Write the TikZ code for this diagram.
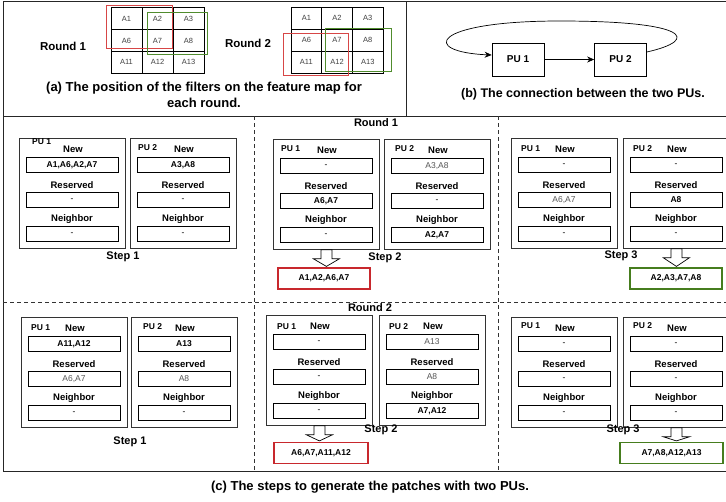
\documentclass[tikz,border=0pt]{standalone}
\usepackage{fontspec}
\setmainfont{Liberation Sans}
\usetikzlibrary{arrows.meta,calc}
\definecolor{redb}{RGB}{200,40,45}
\definecolor{greenb}{RGB}{70,125,30}
\definecolor{reda}{RGB}{215,70,70}
\definecolor{greena}{RGB}{80,140,45}
\definecolor{vgray}{RGB}{85,85,85}
\newcommand\ValB[1]{\textbf{#1}}
\newcommand\ValG[1]{\textcolor{vgray}{#1}}
% #1 name, #2 x, #3 y, #4 PU label, #5 new, #6 reserved, #7 neighbor, #8 PU label offset
\newcommand\PUpanel[8]{%
  \node[pubox] (#1) at (#2,#3) {};
  \node[pulbl] (#1-pu) at ($(#1.north west)+#8$) {#4};
  \node[lbl] (#1-nl) at ($(#1.north west)+(54,11)$) {New};
  \node[field] (#1-nf) at ($(#1.north west)+(53,27)$) {#5};
  \node[lbl] (#1-rl) at ($(#1.north west)+(53,47)$) {Reserved};
  \node[field] (#1-rf) at ($(#1.north west)+(53,62)$) {#6};
  \node[lbl] (#1-gl) at ($(#1.north west)+(53,81)$) {Neighbor};
  \node[field] (#1-gf) at ($(#1.north west)+(53,96)$) {#7};
}
\newcommand\HollowArrow[2]{%
  \draw[hollow] let \p1=(#1.south), \p2=(#2.north) in
   (\x1-5.5pt,\y1) -- (\x1+5.5pt,\y1) -- (\x1+5.5pt,\y1-9pt) -- (\x1+13pt,\y1-9pt)
   -- (\x1,\y2+1pt) -- (\x1-13pt,\y1-9pt) -- (\x1-5.5pt,\y1-9pt) -- cycle;
}
\begin{document}
\begin{tikzpicture}[x=1pt,y=-1pt,
  frame/.style={draw=black!85, line width=0.9pt},
  dashline/.style={draw=black!80, line width=0.7pt, dash pattern=on 4pt off 3pt},
  pubox/.style={draw=black!80, line width=0.8pt, minimum width=106pt, minimum height=110pt, inner sep=0pt, anchor=north west},
  field/.style={draw=black, line width=0.6pt, minimum width=92pt, minimum height=15.5pt, inner sep=0pt, font=\fontsize{8.5}{9}\selectfont},
  lbl/.style={font=\fontsize{9.5}{10}\selectfont\bfseries, inner sep=0pt},
  pulbl/.style={font=\fontsize{8.5}{9}\selectfont\bfseries, inner sep=0pt, anchor=west},
  steplbl/.style={font=\fontsize{11}{11}\selectfont\bfseries, inner sep=0pt},
  roundlbl/.style={font=\fontsize{11.5}{12}\selectfont\bfseries, inner sep=0pt},
  caption/.style={font=\fontsize{13}{16}\selectfont\bfseries, align=center, inner sep=0pt},
  cell/.style={draw=black, line width=0.7pt, minimum width=31pt, minimum height=22pt, inner sep=0pt, font=\fontsize{7.5}{8}\selectfont, text=black!75},
  outbox/.style={line width=1.2pt, minimum height=21pt, inner sep=0pt, font=\fontsize{8.5}{9}\selectfont\bfseries},
  hollow/.style={draw=black, line width=0.7pt, fill=white},
  conn/.style={draw=black, line width=0.7pt, -{Stealth[length=7pt,width=6pt]}},
  pub/.style={draw=black, line width=0.7pt, minimum width=52pt, minimum height=33pt, inner sep=0pt, font=\fontsize{10}{10}\selectfont\bfseries}
]
\useasboundingbox (0,0) rectangle (726,501);
\clip (0,0) rectangle (726,501);
\fill[white] (0,0) rectangle (726,501);

% frame
\draw[frame] (3,1) rectangle (730,471);
\draw[frame] (3,116) -- (730,116);
\draw[frame] (406,1) -- (406,116);
\draw[dashline] (254,116) -- (254,471);
\draw[dashline] (498,116) -- (498,471);
\draw[dashline] (3,302) -- (730,302);

% (a) grids
\node[roundlbl] (rd1) at (63,46) {Round 1};
\node[roundlbl] (rd2) at (248,43) {Round 2};
\foreach \r in {0,1,2}{
  \foreach \c in {0,1,2}{
    \pgfmathtruncatemacro\n{5*\r+\c+1}
    \node[cell] (ga-\r-\c) at ({111+31*(\c+0.5)},{8+21.67*(\r+0.5)}) {A\n};
    \node[cell, minimum width=30.7pt] (gb-\r-\c) at ({291+30.7*(\c+0.5)},{7+22*(\r+0.5)}) {A\n};
  }
}
\draw[reda, line width=0.8pt] (106,5) rectangle (172,48);
\draw[greena, line width=0.8pt] (147,12) rectangle (207,54);
\draw[reda, line width=0.8pt] (283,33) rectangle (348,75);
\draw[greena, line width=0.8pt] (325,28) rectangle (391,71);
\node[caption] (capa) at (204,95) {(a) The position of the filters on the feature map for\\each round.};

% (b)
\node[pub] (pu1b) at (518,59.5) {PU 1};
\node[pub] (pu2b) at (620.5,59.5) {PU 2};
\draw[conn] (pu1b.east) -- (pu2b.east -| pu2b.west);
\draw[conn] ([yshift=7.5pt]pu2b.east) .. controls (700,40) and (690,21) .. (560,21)
   .. controls (430,21) and (420,52) .. ([yshift=4.5pt]pu1b.west);
\node[caption, font=\fontsize{12.5}{16}\selectfont\bfseries] (capb) at (583,94) {(b) The connection between the two PUs.};

% (c) Round 1
\node[steplbl] (r1lbl) at (376,123) {Round 1};
\PUpanel{r1s1a}{19}{138}{PU 1}{\ValB{A1,A6,A2,A7}}{-}{-}{(13,4)}
\PUpanel{r1s1b}{130}{138}{PU 2}{\ValB{A3,A8}}{-}{-}{(8,10)}
\node[steplbl] (st11) at (123,257) {Step 1};

\PUpanel{r1s2a}{273}{139}{PU 1}{-}{\ValB{A6,A7}}{-}{(8,10)}
\PUpanel{r1s2b}{384}{139}{PU 2}{\ValG{A3,A8}}{-}{\ValB{A2,A7}}{(11,10)}
\node[steplbl] (st12) at (385,258) {Step 2};
\node[outbox, draw=redb, minimum width=92pt] (o12) at (324,278.5) {A1,A2,A6,A7};
\HollowArrow{r1s2a}{o12}

\PUpanel{r1s3a}{511}{138}{PU 1}{-}{\ValG{A6,A7}}{-}{(10,11)}
\PUpanel{r1s3b}{623}{138}{PU 2}{-}{\ValB{A8}}{-}{(10,11)}
\node[steplbl] (st13) at (621,256) {Step 3};
\node[outbox, draw=greenb, minimum width=92pt] (o13) at (676,278.5) {A2,A3,A7,A8};
\HollowArrow{r1s3b}{o13}

% (c) Round 2
\node[steplbl] (r2lbl) at (370,308) {Round 2};
\PUpanel{r2s1a}{21}{317}{PU 1}{\ValB{A11,A12}}{\ValG{A6,A7}}{-}{(10,11)}
\PUpanel{r2s1b}{131}{317}{PU 2}{\ValB{A13}}{\ValG{A8}}{-}{(12,10)}
\node[steplbl] (st21) at (130,442) {Step 1};

\PUpanel{r2s2a}{266}{315}{PU 1}{-}{-}{-}{(11,12)}
\PUpanel{r2s2b}{379}{315}{PU 2}{\ValG{A13}}{\ValG{A8}}{\ValB{A7,A12}}{(10,12)}
\node[steplbl] (st22) at (381,430) {Step 2};
\node[outbox, draw=redb, minimum width=94pt] (o22) at (321,453) {A6,A7,A11,A12};
\HollowArrow{r2s2a}{o22}

\PUpanel{r2s3a}{511}{317}{PU 1}{-}{-}{-}{(10,9)}
\PUpanel{r2s3b}{623}{317}{PU 2}{-}{-}{-}{(10,9)}
\node[steplbl] (st23) at (623,430) {Step 3};
\node[outbox, draw=greenb, minimum width=103pt] (o23) at (671.5,453) {A7,A8,A12,A13};
\HollowArrow{r2s3b}{o23}

\node[caption] (capc) at (370,487) {(c) The steps to generate the patches with two PUs.};
\end{tikzpicture}
\end{document}
